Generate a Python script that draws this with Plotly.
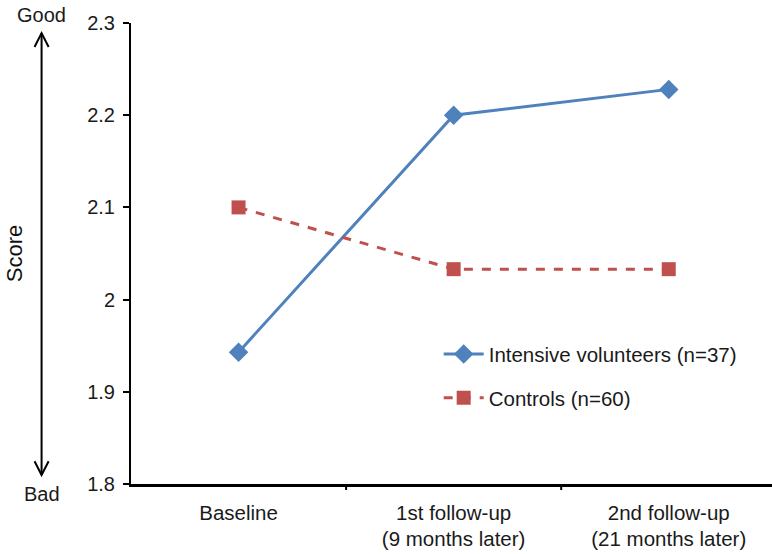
import plotly.graph_objects as go

# Survey waves and mean scores per group
waves = ["Baseline", "1st follow-up<br>(9 months later)", "2nd follow-up<br>(21 months later)"]
volunteers = [1.943, 2.200, 2.228]
controls = [2.100, 2.033, 2.033]
y_ticks = [1.8, 1.9, 2.0, 2.1, 2.2, 2.3]
y_ticktext = ["1.8", "1.9", "2", "2.1", "2.2", "2.3"]

FONT = "Liberation Sans, Arial, sans-serif"
BLUE = "#4F81BD"
RED = "#C0504D"
TXT = "#1a1a1a"

fig = go.Figure()
fig.add_trace(go.Scatter(
    x=list(range(len(waves))), y=volunteers, mode="lines+markers",
    name="Intensive volunteers (n=37)", legendgroup="a",
    line=dict(color=BLUE, width=3),
    marker=dict(symbol="diamond", size=15, color=BLUE),
))
fig.add_trace(go.Scatter(
    x=list(range(len(waves))), y=controls, mode="lines+markers",
    name="Controls (n=60)", legendgroup="b",
    line=dict(color=RED, width=3, dash="dash"),
    marker=dict(symbol="square", size=14, color=RED),
))

# Good/Bad double-headed arrow beside the y axis
ax_x = -0.1395
y_top, y_bot = 0.978, 0.0195
shapes = [
    dict(type="line", xref="paper", yref="paper", x0=ax_x, x1=ax_x, y0=y_bot, y1=y_top,
         line=dict(color="black", width=2)),
    dict(type="path", xref="paper", yref="paper",
         path=f"M {ax_x-0.011},{y_top-0.03} L {ax_x},{y_top} L {ax_x+0.011},{y_top-0.03}",
         line=dict(color="black", width=2)),
    dict(type="path", xref="paper", yref="paper",
         path=f"M {ax_x-0.011},{y_bot+0.03} L {ax_x},{y_bot} L {ax_x+0.011},{y_bot+0.03}",
         line=dict(color="black", width=2)),
]

annotations = [
    dict(text="Good", xref="paper", yref="paper", x=ax_x, y=1.0, xanchor="center",
         yanchor="middle", yshift=8, showarrow=False,
         font=dict(family=FONT, size=20, color=TXT)),
    dict(text="Bad", xref="paper", yref="paper", x=ax_x, y=0.0, xanchor="center",
         yanchor="middle", yshift=-10, showarrow=False,
         font=dict(family=FONT, size=20, color=TXT)),
]

fig.update_layout(
    width=772, height=554,
    margin=dict(l=131, r=0, t=23, b=70),
    paper_bgcolor="white", plot_bgcolor="white",
    font=dict(family=FONT, size=20, color=TXT),
    showlegend=True,
    legend=dict(x=0.48, y=0.325, xanchor="left", yanchor="top",
                traceorder="grouped", tracegroupgap=14,
                font=dict(family=FONT, size=20.5, color=TXT),
                bgcolor="rgba(0,0,0,0)", itemwidth=40),
    shapes=shapes,
    annotations=annotations,
    xaxis=dict(
        tickmode="array", tickvals=list(range(len(waves))), ticktext=waves,
        range=[-0.5, 2.48], showgrid=False, zeroline=False,
        showline=True, linecolor="black", linewidth=3,
        ticks="", ticklabelstandoff=8,
        tickfont=dict(family=FONT, size=20.5, color=TXT),
    ),
    yaxis=dict(
        tickmode="array", tickvals=y_ticks, ticktext=y_ticktext,
        range=[1.8, 2.3], showgrid=False, zeroline=False,
        showline=True, linecolor="black", linewidth=2,
        ticks="outside", ticklen=6, tickwidth=2, tickcolor="black",
        ticklabelstandoff=4,
        tickfont=dict(family=FONT, size=20, color=TXT),
        title=dict(text="Score", font=dict(family=FONT, size=22, color="#111"), standoff=58),
    ),
)

# Category boundary ticks on the x axis
for b in [0.5, 1.5]:
    fig.add_shape(type="line", xref="x", yref="paper", x0=b, x1=b, y0=0, y1=-0.013,
                  line=dict(color="black", width=2))

fig.write_html("out.html")
